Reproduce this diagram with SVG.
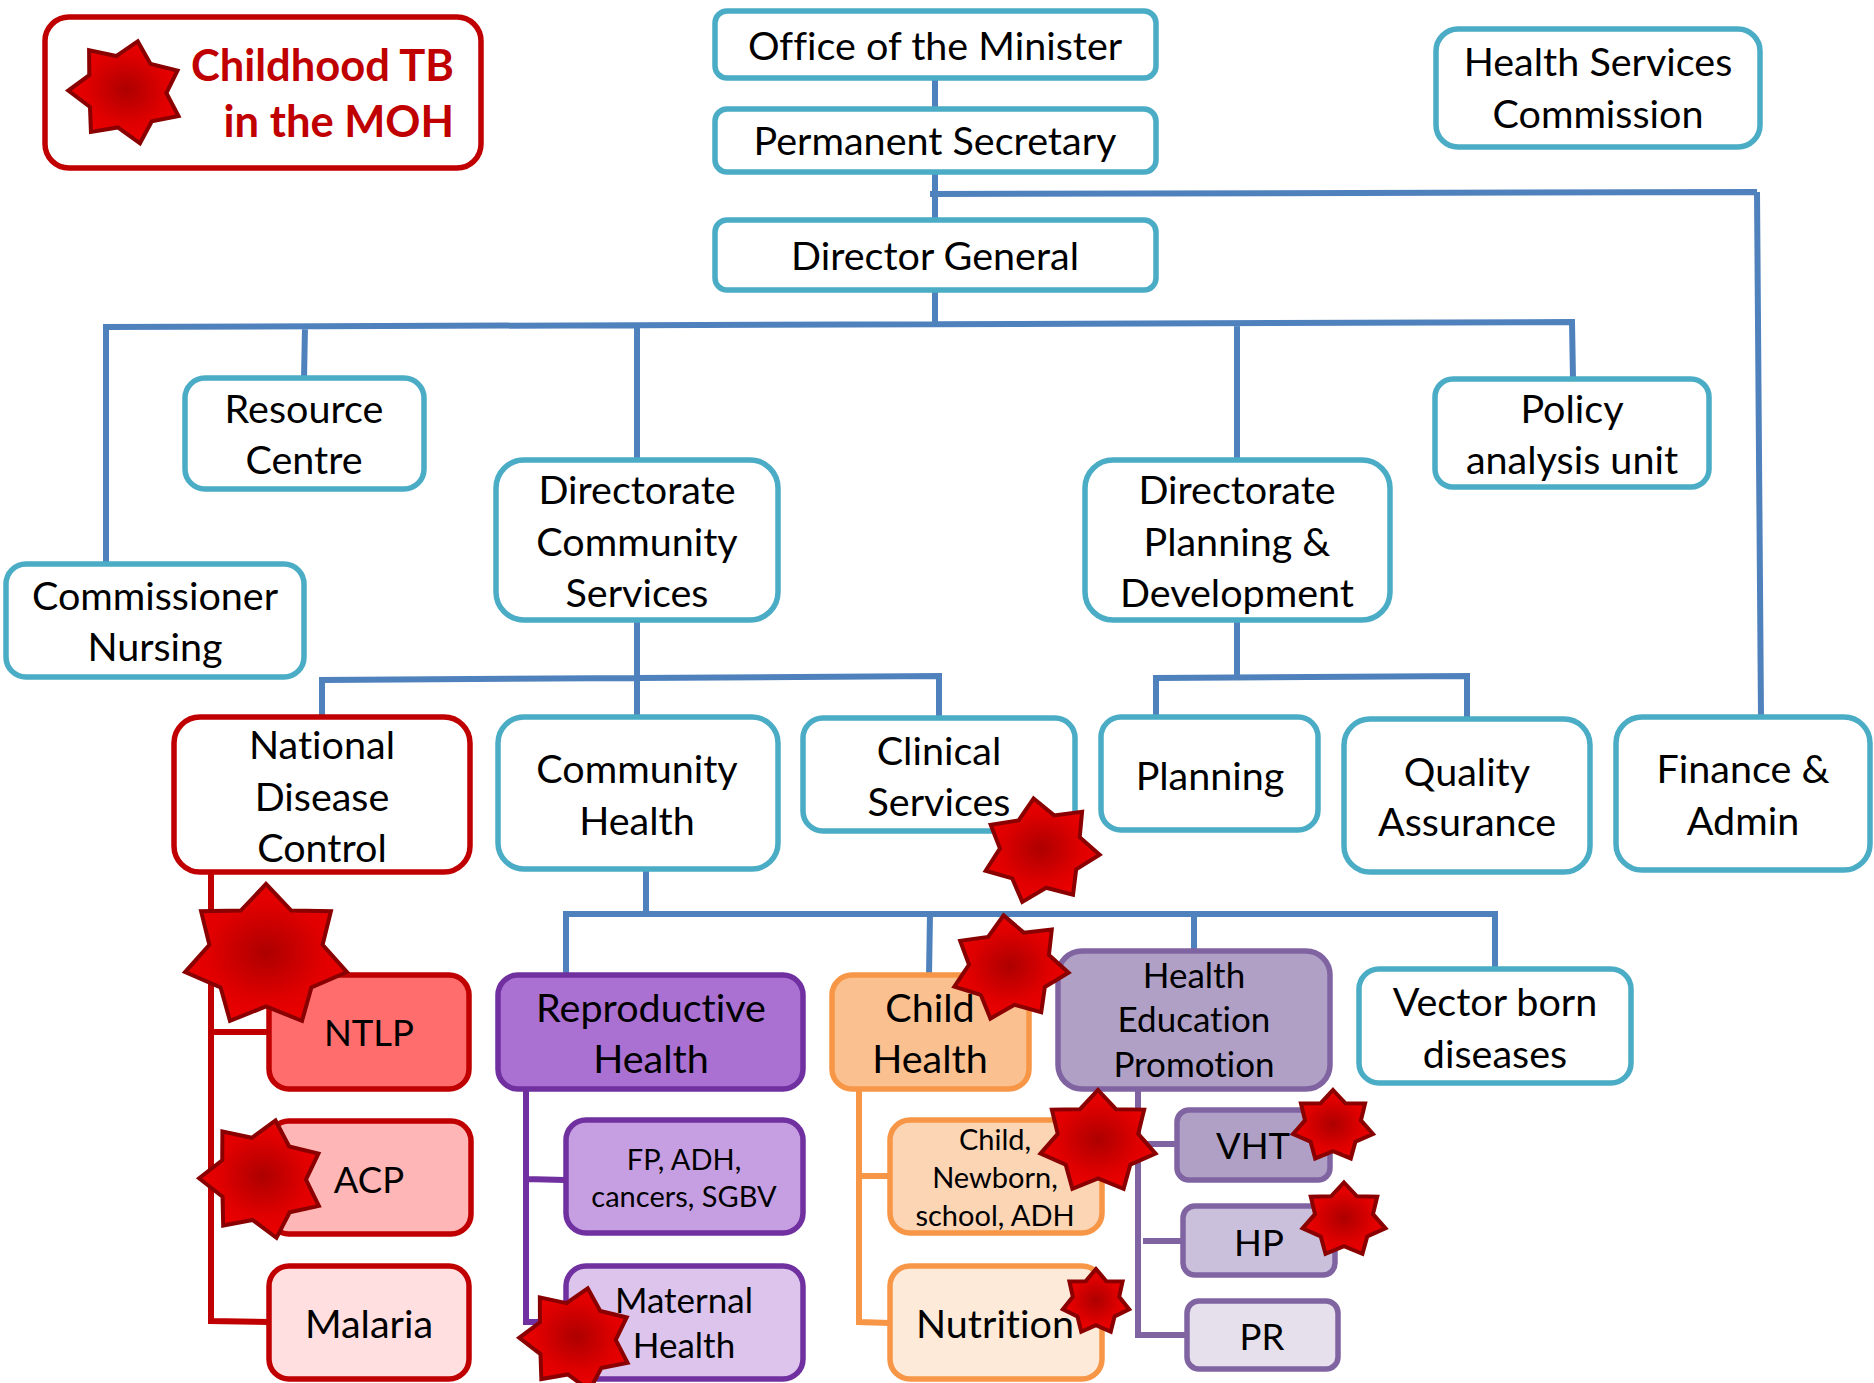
<svg xmlns="http://www.w3.org/2000/svg" xmlns:xlink="http://www.w3.org/1999/xlink" width="1874" height="1383" viewBox="0 0 1874 1383">
<style>
text{font-family:"Lato","Carlito","Liberation Sans",sans-serif;fill:#000;text-anchor:middle;font-size:39.5px;font-variant-ligatures:none}
.m{font-size:35px}.s{font-size:29px}.n{font-size:36.5px}
.leg{font-weight:700;font-size:43.5px;fill:#c00000;text-anchor:end}
.b{stroke-width:5.5px;fill:#fff;stroke:#4bacc6}
.r{stroke:#c00000}.r1{fill:#ff6d6d}.r2{fill:#ffb6b6}.r3{fill:#ffdfdf}
.p{stroke:#7030a0}.p1{fill:#aa71d2}.p2{fill:#c69fe3}.p3{fill:#dcc4ec}
.o{stroke:#f79646}.o1{fill:#fac090}.o2{fill:#fcd5b5}.o3{fill:#fdead9}
.v{stroke:#8064a2}.v1{fill:#b0a0c6}.v2{fill:#cac0dc}.v3{fill:#e5e0ec}
.c{fill:none;stroke-width:6px}
.cb{stroke:#4f81bd}.cr{stroke:#c00000}.cp{stroke:#7030a0}.co{stroke:#f79646}.cv{stroke:#8064a2}
.star{fill:url(#sg);stroke:#8a0000;stroke-width:4px;vector-effect:non-scaling-stroke;stroke-linejoin:miter}
</style>
<defs>
<radialGradient id="sg"><stop offset="0" stop-color="#ad0000"/><stop offset="0.7" stop-color="#e00000"/><stop offset="1" stop-color="#ea0000"/></radialGradient>
<polygon id="st" class="star" points="0,-100 30.4,-63.1 78.2,-62.3 68.2,-15.6 97.5,22.3 54.7,43.6 43.4,90.1 0,70 -43.4,90.1 -54.7,43.6 -97.5,22.3 -68.2,-15.6 -78.2,-62.3 -30.4,-63.1"/>
</defs>
<rect width="1874" height="1383" fill="#fff"/>
<g id="connectors">
<path class="c cb" d="M935 78V110M935 172V220M930 194L1757 192M1757 192L1761 718M935 290V326M106 566V327L1572 322L1573 379M305 327L304 379M637 325V460M1237 323V460"/>
<path class="c cb" d="M637 620V718M322 718V680L939 676V718M1237 620V677M1156 717V678L1467 676V720"/>
<path class="c cb" d="M646 869V914M566 976V914H1495V970M930 914L929 975M1194 914V951"/>
<path class="c cr" d="M211 872V1321L269 1322M211 1032H269"/>
<path class="c cp" d="M526 1089V1322H565M526 1179L565 1180"/>
<path class="c co" d="M859 1089V1322L890 1323M859 1176H890"/>
<path class="c cv" d="M1138 1089V1335H1187M1138 1144H1177M1143 1241H1183"/>
</g>
<g id="legend"><rect class="b r" x="45" y="17" width="436" height="151" rx="24"/>
<text class="leg" x="454" y="81">Childhood TB</text>
<text class="leg" x="454" y="137">in the MOH</text>
<use xlink:href="#st" href="#st" transform="translate(126,92) rotate(13) scale(.58,.52)"/></g>
<g id="office"><rect class="b" x="715" y="11" width="441" height="67" rx="12"/><text x="935" y="60">Office of the Minister</text></g>
<g id="permsec"><rect class="b" x="715" y="109" width="441" height="63" rx="12"/><text x="935" y="155">Permanent Secretary</text></g>
<g id="dg"><rect class="b" x="715" y="220" width="441" height="70" rx="12"/><text x="935" y="270">Director General</text></g>
<g id="hsc"><rect class="b" x="1436" y="29" width="324" height="118" rx="22"/><text x="1598" y="76">Health Services</text><text x="1598" y="128">Commission</text></g>
<g id="resource"><rect class="b" x="185" y="378" width="239" height="111" rx="20"/><text x="304" y="423">Resource</text><text x="304" y="474">Centre</text></g>
<g id="dircomm"><rect class="b" x="496" y="460" width="282" height="160" rx="28"/><text x="637" y="504">Directorate</text><text x="637" y="556">Community</text><text x="637" y="607">Services</text></g>
<g id="dirplan"><rect class="b" x="1085" y="460" width="305" height="160" rx="28"/><text x="1237" y="504">Directorate</text><text x="1237" y="556">Planning &amp;</text><text x="1237" y="607">Development</text></g>
<g id="policy"><rect class="b" x="1435" y="379" width="274" height="108" rx="18"/><text x="1572" y="423">Policy</text><text x="1572" y="474">analysis unit</text></g>
<g id="commissioner"><rect class="b" x="6" y="564" width="298" height="113" rx="20"/><text x="155" y="610">Commissioner</text><text x="155" y="661">Nursing</text></g>
<g id="ndc"><rect class="b r" x="174" y="717" width="296" height="155" rx="26"/><text x="322" y="759">National</text><text x="322" y="811">Disease</text><text x="322" y="862">Control</text></g>
<g id="commhealth"><rect class="b" x="498" y="717" width="280" height="152" rx="26"/><text x="637" y="783">Community</text><text x="637" y="835">Health</text></g>
<g id="clinical"><rect class="b" x="803" y="718" width="272" height="113" rx="20"/><text x="939" y="765">Clinical</text><text x="939" y="816">Services</text></g>
<g id="planning"><rect class="b" x="1101" y="717" width="217" height="113" rx="20"/><text x="1210" y="790">Planning</text></g>
<g id="qa"><rect class="b" x="1344" y="719" width="246" height="153" rx="26"/><text x="1467" y="786">Quality</text><text x="1467" y="836">Assurance</text></g>
<g id="finance"><rect class="b" x="1616" y="717" width="254" height="153" rx="26"/><text x="1743" y="783">Finance &amp;</text><text x="1743" y="835">Admin</text></g>
<g id="ntlp"><rect class="b r r1" x="269" y="975" width="200" height="114" rx="20"/><text class="n" x="369" y="1046">NTLP</text></g>
<g id="acp"><rect class="b r r2" x="269" y="1121" width="202" height="113" rx="20"/><text class="n" x="369" y="1193">ACP</text></g>
<g id="malaria"><rect class="b r r3" x="269" y="1266" width="200" height="113" rx="20"/><text x="369" y="1338">Malaria</text></g>
<g id="repro"><rect class="b p p1" x="498" y="975" width="305" height="114" rx="20"/><text x="651" y="1022">Reproductive</text><text x="651" y="1073">Health</text></g>
<g id="fp"><rect class="b p p2" x="566" y="1120" width="237" height="113" rx="20"/><text class="s" x="684" y="1170">FP, ADH,</text><text class="s" x="684" y="1207">cancers, SGBV</text></g>
<g id="maternal"><rect class="b p p3" x="566" y="1266" width="237" height="113" rx="20"/><text class="m" x="684" y="1313">Maternal</text><text class="m" x="684" y="1358">Health</text></g>
<g id="child"><rect class="b o o1" x="832" y="975" width="197" height="114" rx="20"/><text x="930" y="1022">Child</text><text x="930" y="1073">Health</text></g>
<g id="hep"><rect class="b v v1" x="1058" y="951" width="272" height="138" rx="24"/><text class="m" x="1194" y="988">Health</text><text class="m" x="1194" y="1032">Education</text><text class="m" x="1194" y="1077">Promotion</text></g>
<g id="vector"><rect class="b" x="1359" y="969" width="272" height="114" rx="20"/><text x="1495" y="1016">Vector born</text><text x="1495" y="1068">diseases</text></g>
<g id="cn"><rect class="b o o2" x="890" y="1120" width="212" height="113" rx="20"/><text class="s" x="995" y="1150">Child,</text><text class="s" x="995" y="1188">Newborn,</text><text class="s" x="995" y="1226">school, ADH</text></g>
<g id="nutrition"><rect class="b o o3" x="890" y="1266" width="212" height="113" rx="20"/><text x="995" y="1338">Nutrition</text></g>
<g id="vht"><rect class="b v v1" x="1177" y="1110" width="153" height="70" rx="12"/><text class="n" x="1253" y="1159">VHT</text></g>
<g id="hp"><rect class="b v v2" x="1183" y="1206" width="152" height="69" rx="12"/><text class="n" x="1259" y="1256">HP</text></g>
<g id="pr"><rect class="b v v3" x="1187" y="1301" width="151" height="68" rx="12"/><text class="n" x="1262" y="1350">PR</text></g>
<g id="stars">
<use xlink:href="#st" href="#st" transform="translate(1041,851) rotate(-8) scale(.59,.53)"/>
<use xlink:href="#st" href="#st" transform="translate(266,956) scale(.83,.72)"/>
<use xlink:href="#st" href="#st" transform="translate(1010,968) rotate(-7) scale(.59,.53)"/>
<use xlink:href="#st" href="#st" transform="translate(262,1179) rotate(13) scale(.63,.6)"/>
<use xlink:href="#st" href="#st" transform="translate(576,1339) rotate(13) scale(.57,.52)"/>
<use xlink:href="#st" href="#st" transform="translate(1098,1142) scale(.59,.52)"/>
<use xlink:href="#st" href="#st" transform="translate(1333,1126) scale(.41,.36)"/>
<use xlink:href="#st" href="#st" transform="translate(1344,1220) scale(.425,.375)"/>
<use xlink:href="#st" href="#st" transform="translate(1096,1302) scale(.34,.33)"/>
</g>
</svg>
